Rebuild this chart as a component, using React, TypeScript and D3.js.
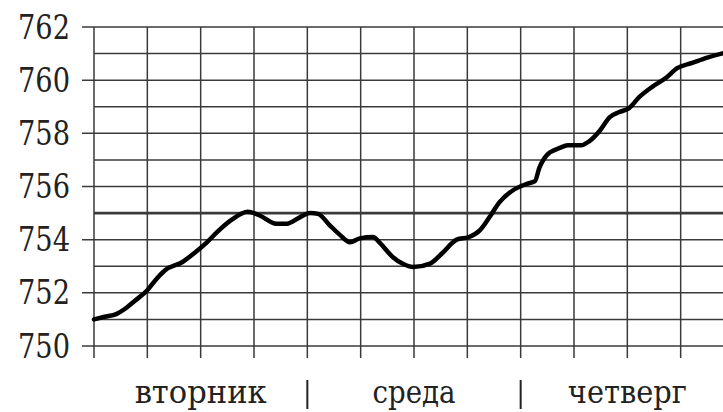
import * as d3 from 'd3';

// hours since Tuesday 00:00, pressure in mm Hg
const hours = [0, 1.2, 2.5, 3.5, 4.6, 6, 7.1, 8, 9.9, 11.3, 12.7, 13.9, 15.5, 17.3, 18.7, 20.5, 21.7, 23.2, 24.3, 25.2,
  26.5, 27.6, 28.8, 29.9, 31.4, 32.1, 33.6, 34.7, 35.9, 37.8, 39.2, 40.8, 42.2, 43.4, 44.5, 45.6, 47.1, 48.7, 49.6, 50.1,
  51, 52.4, 53.3, 54.8, 55.7, 56.9, 58, 59.1, 60.2, 61.3, 62.8, 64.4, 65.6, 67.3, 69, 70.6, 72];
const pressure = [751.0, 751.1, 751.2, 751.4, 751.7, 752.1, 752.55, 752.85, 753.15, 753.5, 753.9, 754.3, 754.75, 755.05,
  754.9, 754.6, 754.6, 754.85, 755.0, 754.97, 754.55, 754.2, 753.9, 754.05, 754.1, 753.9, 753.35, 753.1, 752.97, 753.1,
  753.5, 754.0, 754.1, 754.35, 754.85, 755.4, 755.85, 756.1, 756.2, 756.7, 757.2, 757.45, 757.55, 757.55, 757.7, 758.1,
  758.6, 758.8, 758.95, 759.35, 759.75, 760.1, 760.45, 760.65, 760.85, 761.0, 761.1];

const yTickLabels = [750, 752, 754, 756, 758, 760, 762];
const yGrid = [750, 751, 752, 753, 754, 755, 756, 757, 758, 759, 760, 761, 762];
const xGrid = [0, 6, 12, 18, 24, 30, 36, 42, 48, 54, 60, 66, 72];
const days = ['вторник', 'среда', 'четверг'];
const daySeparators = [24, 48];

const W = 723, H = 412;
const FONT = 'DejaVu Serif, serif';
// rendered widths of the day names in the reference (Times-like, narrower than DejaVu)
const dayWidths = [132, 83, 119];

export default function App() {
  const x = d3.scaleLinear().domain([0, 72]).range([94, 734]);
  const y = d3.scaleLinear().domain([750, 762]).range([346, 27]);

  const pts = hours.map((h, i) => [h, pressure[i]] as [number, number]);
  const line = d3.line<[number, number]>()
    .x(d => x(d[0])).y(d => y(d[1]))
    .curve(d3.curveMonotoneX);

  const dayCenter = (i: number) => (x(i * 24) + x((i + 1) * 24)) / 2;

  return (
    <div style={{ position: 'fixed', left: 0, top: 0 }}>
      <svg width={W} height={H} style={{ display: 'block', background: '#fff' }}>
        {/* horizontal grid; labelled values get a tick to the left */}
        {yGrid.map(v => (
          <line key={'h' + v}
            x1={yTickLabels.includes(v) ? 82 : x(0)} x2={W}
            y1={y(v)} y2={y(v)}
            stroke="#3a3a3a" strokeWidth={v === 755 ? 2.6 : 1.5} />
        ))}
        {/* vertical grid, with ticks below the axis */}
        {xGrid.map(h => (
          <line key={'v' + h} x1={x(h)} x2={x(h)} y1={y(762)} y2={358}
            stroke="#3a3a3a" strokeWidth={1.5} />
        ))}
        {yTickLabels.map(v => (
          <text key={'t' + v} x={70} y={y(v)} dy="0.35em" textAnchor="end"
            textLength={52} lengthAdjust="spacingAndGlyphs"
            style={{ fontFamily: FONT, fontSize: 33 }} fill="#222">{v}</text>
        ))}
        {days.map((d, i) => (
          <text key={d} x={dayCenter(i)} y={403} textAnchor="middle"
            textLength={dayWidths[i]} lengthAdjust="spacingAndGlyphs"
            style={{ fontFamily: FONT, fontSize: 31 }} fill="#222">{d}</text>
        ))}
        {daySeparators.map(h => (
          <line key={'s' + h} x1={x(h)} x2={x(h)} y1={380} y2={409}
            stroke="#222" strokeWidth={2} />
        ))}
        <path d={line(pts) ?? ''} fill="none" stroke="#000" strokeWidth={4.5}
          strokeLinejoin="round" strokeLinecap="round" />
      </svg>
    </div>
  );
}
